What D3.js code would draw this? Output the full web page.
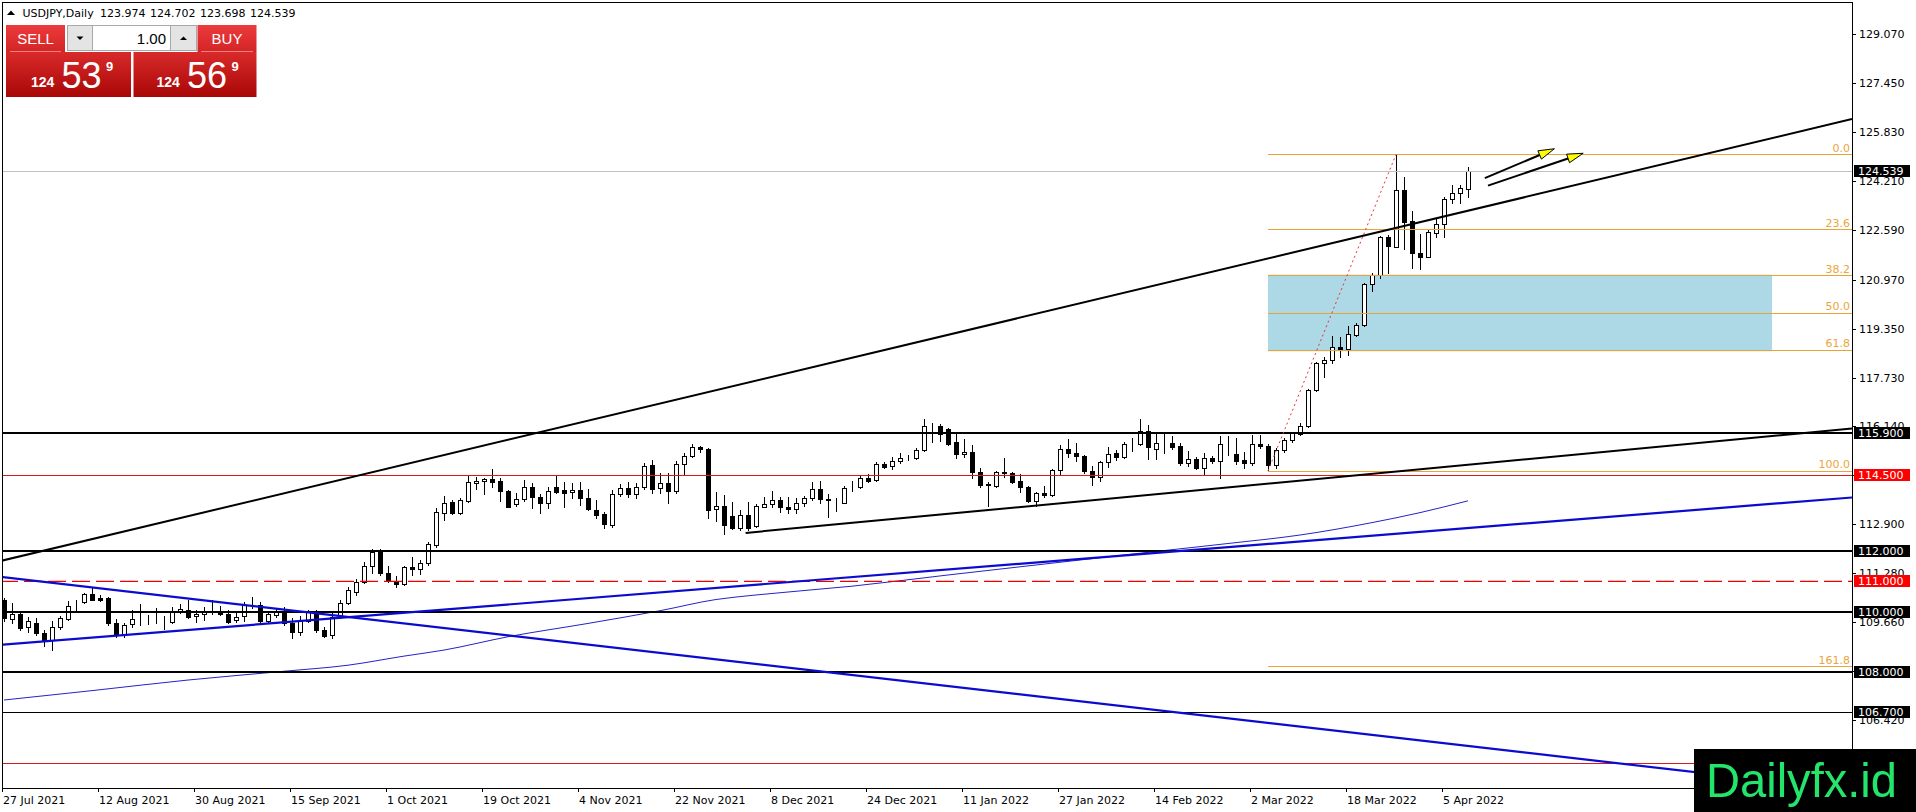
<!DOCTYPE html>
<html lang="en">
<head>
<meta charset="UTF-8">
<title>USDJPY Daily</title>
<script src="https://d3js.org/d3.v7.min.js"></script>
<style>
    body { margin: 0; background: #fff; }
    svg { display: block; font-family: "DejaVu Sans", sans-serif; }
    .tick-label { font-size: 11px; fill: #000; }
    .fib-label { font-size: 11px; fill: #eaa63a; }
    .panel-text { font-family: "Liberation Sans", Arial, sans-serif; fill: #fff; }
</style>
</head>
<body>
<svg id="chart" width="1916" height="812"></svg>
<script>
// date labels on the time axis and the bar they sit on
const dateLabels = ["27 Jul 2021", "12 Aug 2021", "30 Aug 2021", "15 Sep 2021", "1 Oct 2021", "19 Oct 2021",
    "4 Nov 2021", "22 Nov 2021", "8 Dec 2021", "24 Dec 2021", "11 Jan 2022", "27 Jan 2022",
    "14 Feb 2022", "2 Mar 2022", "18 Mar 2022", "5 Apr 2022"];
const labelBars = [0, 12, 24, 36, 48, 60, 72, 84, 96, 108, 120, 132, 144, 156, 168, 180];

// daily candles, one per weekday from 27 Jul 2021
const opens = [110.38,109.76,109.92,109.50,109.61,109.28,109.06,109.48,109.76,110.32,110.31,110.58,110.45,110.44,109.61,109.23,109.59,109.76,109.75,109.70,
    109.68,109.66,109.98,110.07,109.85,109.92,110.03,110.02,109.92,109.72,109.85,110.22,110.22,109.70,109.89,110.00,109.63,109.34,109.70,109.99,
    109.39,109.23,109.83,110.29,110.65,110.99,111.50,111.98,111.26,111.02,110.91,111.48,111.40,111.61,112.20,113.27,113.63,113.25,113.66,114.24,
    114.31,114.38,114.31,113.98,113.55,113.71,114.13,113.80,113.58,114.10,114.02,113.94,114.02,113.74,113.36,113.22,112.86,113.90,114.07,113.90,
    114.13,114.84,114.07,114.26,113.99,114.88,115.14,115.45,115.36,113.38,113.49,113.16,112.75,113.19,112.83,113.47,113.55,113.69,113.44,113.38,
    113.58,113.74,114.04,113.71,113.66,113.60,114.07,114.10,114.40,114.35,114.87,114.81,114.97,115.06,115.06,115.34,116.13,116.13,116.02,115.61,
    115.20,115.28,114.62,114.21,114.15,114.62,114.57,114.32,114.10,113.66,113.93,113.85,114.68,115.36,115.25,115.14,114.66,114.44,114.95,115.25,
    115.10,115.54,115.54,115.98,115.36,115.58,115.58,115.47,114.92,115.03,114.73,115.06,114.99,115.54,115.20,115.01,114.90,115.54,115.47,114.84,
    115.34,115.67,115.87,116.13,117.32,118.20,118.31,118.75,118.66,119.13,119.47,120.82,121.12,122.39,122.03,123.93,122.91,121.83,121.70,122.52,
    122.80,123.62,123.82,123.974];
const highs = [110.45,110.29,109.95,109.81,109.78,109.39,109.70,109.85,110.36,110.38,110.62,110.77,110.55,110.47,109.74,109.63,110.05,110.24,109.89,110.13,
    109.85,110.16,110.25,110.38,110.05,110.16,110.40,110.18,110.05,109.96,110.33,110.47,110.33,109.98,110.08,110.16,109.78,109.85,110.05,110.05,
    109.48,109.94,110.38,110.80,111.07,111.65,112.08,112.08,111.50,111.18,111.50,111.81,111.70,112.31,113.41,113.82,113.69,113.74,114.48,114.46,
    114.40,114.70,114.40,114.02,113.93,114.35,114.24,113.89,114.10,114.51,114.29,114.24,114.29,114.04,113.69,113.30,114.02,114.21,114.29,114.26,
    114.90,115.01,114.57,114.59,114.98,115.25,115.54,115.47,115.39,113.96,113.85,113.63,113.36,113.63,113.55,113.80,113.99,113.77,113.80,113.74,
    113.82,114.29,114.32,113.88,113.74,114.15,114.32,114.48,114.54,114.95,114.95,115.10,115.23,115.17,115.39,116.35,116.24,116.20,116.05,115.89,
    115.69,115.50,114.73,114.29,114.65,115.06,114.62,114.54,114.15,113.96,114.15,114.70,115.50,115.69,115.58,115.17,114.81,114.98,115.45,115.34,
    115.61,115.72,116.35,116.16,115.87,115.87,115.80,115.56,115.31,115.12,115.25,115.14,115.80,115.80,115.75,115.28,115.83,115.83,115.54,115.39,
    115.72,115.94,116.22,117.37,118.25,118.40,119.10,119.06,119.43,119.52,120.84,121.17,122.41,122.44,125.10,124.37,123.24,122.47,122.63,122.96,
    123.69,124.09,124.09,124.702];
const lows = [109.70,109.61,109.39,109.34,109.23,108.86,108.73,109.41,109.72,110.03,110.27,110.38,110.35,109.56,109.17,109.15,109.48,109.56,109.59,109.63,
    109.41,109.63,109.94,109.79,109.67,109.72,109.92,109.90,109.61,109.67,109.70,110.11,109.63,109.63,109.83,109.56,109.12,109.23,109.66,109.33,
    109.17,109.12,109.78,110.25,110.55,110.95,111.26,111.22,110.99,110.82,110.88,111.21,111.24,111.54,112.14,113.03,113.22,113.22,113.63,114.04,
    113.90,114.10,113.66,113.44,113.49,113.66,113.41,113.27,113.41,113.91,113.47,113.74,113.52,113.36,113.08,112.75,112.78,113.82,113.77,113.74,
    114.04,113.93,113.91,113.60,113.93,114.51,115.10,115.28,113.08,113.00,112.56,112.72,112.70,112.70,112.80,113.44,113.44,113.30,113.27,113.25,
    113.49,113.69,113.58,113.14,113.32,113.58,113.99,114.07,114.29,114.32,114.73,114.70,114.92,115.01,115.03,115.32,115.61,115.65,115.50,115.06,
    115.12,114.40,114.13,113.49,114.13,114.46,114.24,113.96,113.63,113.49,113.77,113.82,114.51,115.12,114.98,114.59,114.18,114.33,114.79,115.01,
    115.06,115.31,115.50,115.03,115.03,115.25,115.36,114.84,114.81,114.70,114.54,114.90,114.43,115.17,114.88,114.73,114.84,115.39,114.65,114.73,
    115.28,115.61,115.83,116.11,117.30,117.74,118.22,118.40,118.48,119.10,119.45,120.60,121.01,121.17,122.03,121.99,121.34,121.31,121.70,122.39,
    122.39,123.51,123.49,123.698];
const closes = [109.78,109.92,109.45,109.69,109.28,109.06,109.48,109.78,110.20,110.31,110.58,110.40,110.38,109.61,109.23,109.56,109.74,109.75,109.74,109.68,
    109.69,109.98,110.08,109.83,109.92,110.03,110.02,109.92,109.67,109.83,110.22,110.21,109.70,109.92,109.99,109.63,109.34,109.70,110.00,109.39,
    109.19,109.81,110.29,110.73,110.99,111.50,111.98,111.27,111.04,110.92,111.46,111.40,111.61,112.22,113.30,113.60,113.25,113.69,114.27,114.31,
    114.38,114.29,113.98,113.47,113.71,114.13,113.80,113.58,114.00,113.96,113.93,114.02,113.74,113.39,113.19,112.89,113.90,114.07,113.90,114.13,
    114.81,114.04,114.24,114.00,114.88,115.14,115.43,115.36,113.36,113.49,112.86,112.75,113.19,112.75,113.49,113.54,113.69,113.44,113.38,113.58,
    113.76,114.04,113.71,113.70,113.67,114.07,114.08,114.40,114.32,114.87,114.79,114.97,115.06,115.07,115.34,116.13,116.12,115.87,115.54,115.20,
    115.28,114.62,114.18,114.18,114.62,114.57,114.29,114.10,113.66,113.93,113.85,114.68,115.36,115.23,115.14,114.66,114.46,114.95,115.20,115.10,
    115.54,115.55,115.98,115.43,115.56,115.57,115.45,114.92,115.03,114.73,115.06,114.99,115.54,115.55,114.99,114.90,115.54,115.47,114.84,115.34,
    115.67,115.89,116.13,117.32,118.20,118.31,118.75,118.66,119.17,119.47,120.82,121.12,122.39,122.08,123.93,122.88,121.83,121.70,122.55,122.80,
    123.62,123.84,123.98,124.539];

// moving average
const maBars = [0, 11, 23, 35, 43, 50, 55, 63, 73, 82, 89, 94, 106, 118, 129, 141, 153, 162, 171, 177, 183];
const maValues = [107.08, 107.39, 107.74, 108.03, 108.23, 108.53, 108.73, 109.17, 109.61, 110.03, 110.40, 110.55,
    110.84, 111.21, 111.54, 111.90, 112.25, 112.53, 112.94, 113.27, 113.66];

// price scale
const priceTicks = [129.07, 127.45, 125.83, 124.21, 122.59, 120.97, 119.35, 117.73, 116.14, 114.52, 112.9, 111.28, 109.66, 108.04, 106.42];

// horizontal levels
const thickLevels = [115.9, 112, 110, 108];
const thinLevels = [106.7];
const redLevels = [114.5, 105];
const dashedLevels = [111];
const labeledLevels = [115.9, 114.5, 112, 111, 110, 108, 106.7];
const redLabelLevels = [114.5, 111];
const lastPrice = 124.539;

// trend lines as [bar, price] pairs
const upperTrend = [[-0.5, 111.67], [231, 126.27]];
const lowerTrend = [[92.7, 112.60], [231, 116.05]];
const blueRising = [[-0.5, 108.90], [231, 113.77]];
const blueFalling = [[-0.5, 111.15], [231, 104.10]];
const arrowsUp = [[[185.1, 124.32], [193.8, 125.29]], [[185.5, 124.07], [197.4, 125.14]]];

// fibonacci retracement
const fibLowBar = 158, fibLow = 114.65;
const fibHighBar = 174, fibHigh = 125.10;
const fibLevels = [0, 23.6, 38.2, 50, 61.8, 100, 161.8];
const zoneBars = [158, 221];
const zonePrices = [121.13, 118.60];

// header / trade panel
const symbolName = "USDJPY,Daily";
const headerValues = [123.974, 124.702, 123.698, 124.539];
const bidParts = ["124", "53", "9"];
const askParts = ["124", "56", "9"];
const lotSize = "1.00";

const svg = d3.select("#chart");
const plotRight = 1852, plotBottom = 788;

const x = d3.scaleLinear().domain([-0.5, 231]).range([0, plotRight]);
const y = d3.scaleLinear().domain([106.42, 129.07]).range([720, 34.3]);
const px = v => Math.round(v) + 0.5;

svg.append("defs").append("clipPath").attr("id", "plotClip")
    .append("rect").attr("x", 3).attr("y", 3).attr("width", plotRight - 3).attr("height", plotBottom - 3);

const defs = svg.select("defs");
const g1 = defs.append("linearGradient").attr("id", "redTop").attr("x1", 0).attr("y1", 0).attr("x2", 0).attr("y2", 1);
g1.append("stop").attr("offset", "0%").attr("stop-color", "#ec3b3d");
g1.append("stop").attr("offset", "100%").attr("stop-color", "#d32426");
const g2 = defs.append("linearGradient").attr("id", "redBig").attr("x1", 0).attr("y1", 0).attr("x2", 0).attr("y2", 1);
g2.append("stop").attr("offset", "0%").attr("stop-color", "#d92a2a");
g2.append("stop").attr("offset", "100%").attr("stop-color", "#a90707");

// frame
svg.append("path")
    .attr("d", `M2.5,${plotBottom + 0.5} V2.5 H${plotRight + 0.5} V${plotBottom + 0.5} H2.5`)
    .attr("fill", "none").attr("stroke", "#000").attr("shape-rendering", "crispEdges");

const plot = svg.append("g").attr("clip-path", "url(#plotClip)");

// blue zone of the retracement
plot.append("rect")
    .attr("x", x(zoneBars[0])).attr("y", y(zonePrices[0]))
    .attr("width", x(zoneBars[1]) - x(zoneBars[0]))
    .attr("height", y(zonePrices[1]) - y(zonePrices[0]))
    .attr("fill", "#add8e6");

// candles
const bars = opens.map((o, i) => ({ i, o, h: highs[i], l: lows[i], c: closes[i] }));
const candles = plot.append("g").attr("shape-rendering", "crispEdges");
candles.selectAll("line").data(bars).join("line")
    .attr("x1", d => px(x(d.i))).attr("x2", d => px(x(d.i)))
    .attr("y1", d => Math.round(y(d.h))).attr("y2", d => Math.round(y(d.l)) + 1)
    .attr("stroke", "#000");
candles.selectAll("rect").data(bars).join("rect")
    .attr("x", d => px(x(d.i)) - 2)
    .attr("y", d => px(y(Math.max(d.o, d.c))))
    .attr("width", 4)
    .attr("height", d => Math.max(0, Math.round(y(Math.min(d.o, d.c))) - Math.round(y(Math.max(d.o, d.c)))))
    .attr("fill", d => d.c >= d.o ? "#fff" : "#000")
    .attr("stroke", "#000");

// moving average
plot.append("path")
    .datum(maBars.map((b, k) => [b, maValues[k]]))
    .attr("d", d3.line().x(d => x(d[0])).y(d => y(d[1])).curve(d3.curveMonotoneX))
    .attr("fill", "none").attr("stroke", "#2323c8").attr("stroke-width", 1);

// horizontal levels
const hline = (levels, color, width, dash) => {
    plot.append("g").attr("shape-rendering", "crispEdges")
        .selectAll("line").data(levels).join("line")
        .attr("x1", 0).attr("x2", plotRight)
        .attr("y1", d => width === 2 ? Math.round(y(d)) : px(y(d)))
        .attr("y2", d => width === 2 ? Math.round(y(d)) : px(y(d)))
        .attr("stroke", color).attr("stroke-width", width)
        .attr("stroke-dasharray", dash);
};
hline([lastPrice], "#c0c0c0", 1, null);
hline(redLevels, "#d41c1c", 1, null);
hline(thinLevels, "#000", 1, null);
hline(thickLevels, "#000", 2, null);
// dashed red level, drawn a touch heavier so it keeps its colour
plot.append("g").selectAll("line").data(dashedLevels).join("line")
    .attr("x1", 0).attr("x2", plotRight)
    .attr("y1", d => y(d)).attr("y2", d => y(d))
    .attr("stroke", "#ee0000").attr("stroke-width", 1.4)
    .attr("stroke-dasharray", "18,6");

// fibonacci lines
const fibPrice = lv => fibHigh - lv / 100 * (fibHigh - fibLow);
plot.append("g").attr("shape-rendering", "crispEdges")
    .selectAll("line").data(fibLevels).join("line")
    .attr("x1", x(fibLowBar)).attr("x2", plotRight)
    .attr("y1", d => px(y(fibPrice(d)))).attr("y2", d => px(y(fibPrice(d))))
    .attr("stroke", "#e9a438").attr("stroke-width", 1);
plot.append("g").selectAll("text").data(fibLevels).join("text")
    .attr("class", "fib-label")
    .attr("x", plotRight - 2).attr("y", d => y(fibPrice(d)) - 2.5)
    .attr("text-anchor", "end")
    .text(d => d3.format(".1f")(d));

plot.append("line")
    .attr("x1", x(fibLowBar)).attr("y1", y(fibLow))
    .attr("x2", x(fibHighBar)).attr("y2", y(fibHigh))
    .attr("stroke", "#e03535").attr("stroke-width", 1).attr("stroke-dasharray", "2,3");

// trend lines
const segLine = (pts, color, width) => {
    plot.append("line")
        .attr("x1", x(pts[0][0])).attr("y1", y(pts[0][1]))
        .attr("x2", x(pts[1][0])).attr("y2", y(pts[1][1]))
        .attr("stroke", color).attr("stroke-width", width);
};
segLine(upperTrend, "#000", 2);
segLine(lowerTrend, "#000", 2);
segLine(blueRising, "#0b0bd0", 2.2);
segLine(blueFalling, "#0b0bd0", 2.2);

// arrows with yellow heads
arrowsUp.forEach(a => {
    const x0 = x(a[0][0]), y0 = y(a[0][1]), x1 = x(a[1][0]), y1 = y(a[1][1]);
    const len = Math.hypot(x1 - x0, y1 - y0), ux = (x1 - x0) / len, uy = (y1 - y0) / len;
    const hl = 16, hw = 4.5;
    const bx = x1 - ux * hl, by = y1 - uy * hl;
    plot.append("line").attr("x1", x0).attr("y1", y0).attr("x2", bx).attr("y2", by)
        .attr("stroke", "#000").attr("stroke-width", 2);
    plot.append("path")
        .attr("d", `M${x1},${y1} L${bx - uy * hw},${by + ux * hw} L${bx + uy * hw},${by - ux * hw} Z`)
        .attr("fill", "#ffff00").attr("stroke", "#000").attr("stroke-width", 1);
});

// price axis
const axisG = svg.append("g");
axisG.selectAll("line").data(priceTicks).join("line")
    .attr("x1", plotRight).attr("x2", plotRight + 4)
    .attr("y1", d => px(y(d))).attr("y2", d => px(y(d)))
    .attr("stroke", "#000").attr("shape-rendering", "crispEdges");
axisG.selectAll("text").data(priceTicks).join("text")
    .attr("class", "tick-label")
    .attr("x", plotRight + 7).attr("y", d => y(d) + 4)
    .text(d => d3.format(".3f")(d));

// level price boxes
const boxLevels = labeledLevels.concat([lastPrice]);
const boxes = svg.append("g").selectAll("g").data(boxLevels).join("g")
    .attr("transform", d => `translate(0,${Math.round(y(d))})`);
boxes.append("rect")
    .attr("x", plotRight + 2).attr("y", -6).attr("width", 56).attr("height", 12)
    .attr("fill", d => redLabelLevels.includes(d) ? "#ff0000" : "#000");
boxes.append("text")
    .attr("class", "tick-label").style("fill", "#fff")
    .attr("x", plotRight + 6).attr("y", 4)
    .text(d => d3.format(".3f")(d));

// time axis
const timeG = svg.append("g");
timeG.selectAll("line").data(labelBars).join("line")
    .attr("x1", d => px(x(d) - 2)).attr("x2", d => px(x(d) - 2))
    .attr("y1", plotBottom).attr("y2", plotBottom + 4)
    .attr("stroke", "#000").attr("shape-rendering", "crispEdges");
timeG.selectAll("text").data(labelBars).join("text")
    .attr("class", "tick-label")
    .attr("x", d => Math.max(3, x(d) - 1)).attr("y", 804)
    .text((d, k) => dateLabels[k]);

// header line
svg.append("path").attr("d", "M7,15 L11,10.5 L15,15 Z").attr("fill", "#000");
svg.append("text").attr("class", "tick-label").attr("x", 22.5).attr("y", 17).text(symbolName);
svg.append("g").selectAll("text").data(headerValues).join("text")
    .attr("class", "tick-label")
    .attr("x", (d, k) => 100 + k * 50).attr("y", 17)
    .text(d => d3.format(".3f")(d));

// one-click trade panel
const panel = svg.append("g");
panel.append("rect").attr("x", 6).attr("y", 25).attr("width", 59).attr("height", 27).attr("fill", "url(#redTop)");
panel.append("rect").attr("x", 197.5).attr("y", 25).attr("width", 59).attr("height", 27).attr("fill", "url(#redTop)");
panel.append("line").attr("x1", 10).attr("x2", 61).attr("y1", 51.5).attr("y2", 51.5).attr("stroke", "#f08080");
panel.append("line").attr("x1", 201).attr("x2", 253).attr("y1", 51.5).attr("y2", 51.5).attr("stroke", "#f08080");
panel.append("rect").attr("x", 6).attr("y", 52).attr("width", 125).attr("height", 45).attr("fill", "url(#redBig)");
panel.append("rect").attr("x", 133.5).attr("y", 52).attr("width", 123).attr("height", 45).attr("fill", "url(#redBig)");
panel.append("rect").attr("x", 67.5).attr("y", 25.5).attr("width", 25).attr("height", 25)
    .attr("fill", "#e4e4e4").attr("stroke", "#a8a8a8");
panel.append("rect").attr("x", 92.5).attr("y", 25.5).attr("width", 78).attr("height", 25)
    .attr("fill", "#fff").attr("stroke", "#a8a8a8");
panel.append("rect").attr("x", 170.5).attr("y", 25.5).attr("width", 26).attr("height", 25)
    .attr("fill", "#e4e4e4").attr("stroke", "#a8a8a8");
panel.append("path").attr("d", "M76.5,36.5 L83.5,36.5 L80,40 Z").attr("fill", "#000");
panel.append("path").attr("d", "M180,40 L187,40 L183.5,36.5 Z").attr("fill", "#000");
panel.append("text").attr("x", 166).attr("y", 43.5).attr("text-anchor", "end")
    .style("font-family", "'Liberation Sans', Arial, sans-serif").style("font-size", "15px").text(lotSize);
panel.append("text").attr("class", "panel-text").attr("x", 35.5).attr("y", 44).attr("text-anchor", "middle")
    .style("font-size", "15px").text("SELL");
panel.append("text").attr("class", "panel-text").attr("x", 227).attr("y", 44).attr("text-anchor", "middle")
    .style("font-size", "15px").text("BUY");

[[bidParts, 31], [askParts, 156.5]].forEach(([parts, x0]) => {
    panel.append("text").attr("class", "panel-text").attr("x", x0).attr("y", 87)
        .style("font-size", "14px").style("font-weight", "bold").text(parts[0]);
    panel.append("text").attr("class", "panel-text").attr("x", x0 + 30.5).attr("y", 87.5)
        .style("font-size", "36px").text(parts[1]);
    panel.append("text").attr("class", "panel-text").attr("x", x0 + 75).attr("y", 71)
        .style("font-size", "13px").style("font-weight", "bold").text(parts[2]);
});

// watermark
svg.append("rect").attr("x", 1694).attr("y", 749).attr("width", 222).attr("height", 63).attr("fill", "#000");
svg.append("text").attr("x", 1706).attr("y", 797)
    .attr("textLength", 191).attr("lengthAdjust", "spacingAndGlyphs")
    .style("font-family", "'Liberation Sans', Arial, sans-serif").style("font-size", "49px")
    .style("fill", "#24e56c").text("Dailyfx.id");
</script>
</body>
</html>
